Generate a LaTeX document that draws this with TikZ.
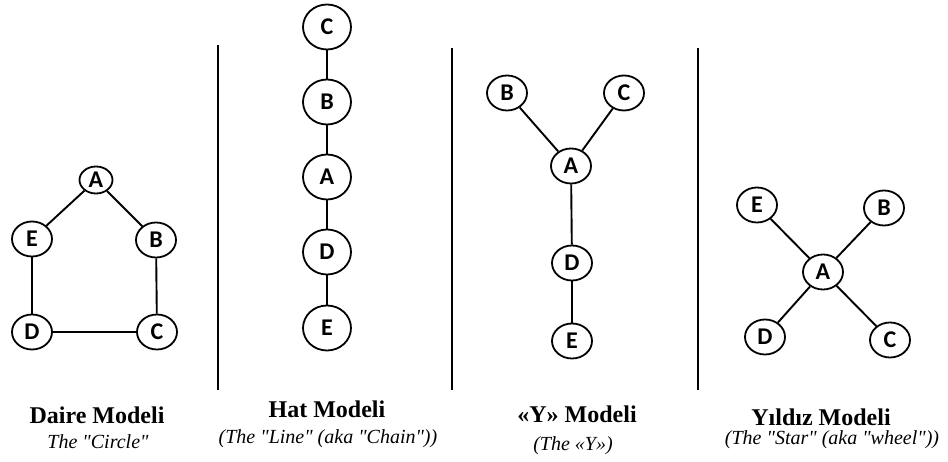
\documentclass[tikz,border=0pt]{standalone}
\usepackage{fontspec}
\setmainfont{Liberation Serif}
\newfontfamily\nodefont{Carlito}[BoldFont={Carlito Bold}]
\usetikzlibrary{shapes.geometric}
\begin{document}
\begin{tikzpicture}[x=1pt,y=-1pt,
  nd/.style={ellipse,draw,line width=1.8pt,inner sep=0pt,minimum width=40pt,minimum height=35pt,font=\nodefont\bfseries\fontsize{24}{24}\selectfont},
  big/.style={nd,minimum width=48pt,minimum height=45pt},
  small/.style={nd,minimum width=33pt,minimum height=27pt},
  edge/.style={line width=1.9pt},
  sep/.style={line width=2pt},
  title/.style={anchor=base,inner sep=0pt,font=\bfseries\fontsize{24}{24}\selectfont},
  sub/.style={anchor=base,inner sep=0pt,font=\itshape\fontsize{20}{20}\selectfont}]
\useasboundingbox (0,0) rectangle (948,462);
% separators
\coordinate (s1t) at (218,45); \coordinate (s1b) at (218,390);
\coordinate (s2t) at (452,48); \coordinate (s2b) at (452,390);
\coordinate (s3t) at (698,48); \coordinate (s3b) at (698,390);
\draw[sep] (s1t) -- (s1b);
\draw[sep] (s2t) -- (s2b);
\draw[sep] (s3t) -- (s3b);
% Circle model
\node[small] (cA) at (96,180) {A};
\node[nd] (cE) at (32,239) {E};
\node[nd] (cB) at (156,240) {B};
\node[nd] (cD) at (32,332) {D};
\node[nd] (cC) at (157,332) {C};
\draw[edge] (cA) -- (cE);
\draw[edge] (cA) -- (cB);
\draw[edge] (cE) -- (cD);
\draw[edge] (cB) -- (cC);
\draw[edge] (cD) -- (cC);
% Line model
\node[big] (hC) at (327,27) {C};
\node[big] (hB) at (327,102) {B};
\node[big] (hA) at (327,177) {A};
\node[big] (hD) at (327,252) {D};
\node[big] (hE) at (327,328) {E};
\draw[edge] (hC) -- (hB);
\draw[edge] (hB) -- (hA);
\draw[edge] (hA) -- (hD);
\draw[edge] (hD) -- (hE);
% Y model
\node[nd] (yB) at (507,93) {B};
\node[nd] (yC) at (624,93) {C};
\node[nd] (yA) at (571,166) {A};
\node[nd] (yD) at (572,263) {D};
\node[nd] (yE) at (572,341) {E};
\draw[edge] (yB) -- (yA);
\draw[edge] (yC) -- (yA);
\draw[edge] (yA) -- (yD);
\draw[edge] (yD) -- (yE);
% Star model
\node[nd] (sE) at (757,205) {E};
\node[nd] (sB) at (884,208) {B};
\node[nd] (sA) at (823,272) {A};
\node[nd] (sD) at (765,337) {D};
\node[nd] (sC) at (890,340) {C};
\draw[edge] (sA) -- (sE);
\draw[edge] (sA) -- (sB);
\draw[edge] (sA) -- (sD);
\draw[edge] (sA) -- (sC);
% labels
\node[title] (t1) at (97,423) {Daire Modeli};
\node[sub] (u1) at (98,448) {The \textquotedbl Circle\textquotedbl};
\node[title] (t2) at (327,417) {Hat Modeli};
\node[sub] (u2) at (328,443) {(The \textquotedbl Line\textquotedbl\ (aka \textquotedbl Chain\textquotedbl))};
\node[title] (t3) at (577,422) {«Y» Modeli};
\node[sub] (u3) at (573,450) {(The «Y»)};
\node[title] (t4) at (821,425) {Yıldız Modeli};
\node[sub] (u4) at (832,444) {(The \textquotedbl Star\textquotedbl\ (aka \textquotedbl wheel\textquotedbl))};
\end{tikzpicture}
\end{document}
